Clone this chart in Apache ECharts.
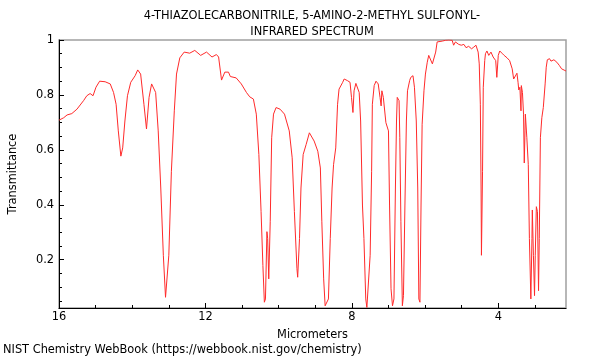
<!DOCTYPE html>
<html>
<head>
<meta charset="utf-8">
<script src="https://cdn.jsdelivr.net/npm/echarts@6/dist/echarts.min.js"></script>
<style>
html,body{margin:0;padding:0;background:#fff;}
#chart{width:600px;height:360px;}
</style>
</head>
<body>
<div id="chart"></div>
<script>
const titleLines = ['4-THIAZOLECARBONITRILE, 5-AMINO-2-METHYL SULFONYL-', 'INFRARED SPECTRUM'];
const xName = 'Micrometers';
const yName = 'Transmittance';
const footer = 'NIST Chemistry WebBook (https://webbook.nist.gov/chemistry)';

const xMajorTicks = [16, 12, 8, 4];
const xMinorTicks = [15, 14, 13, 11, 10, 9, 7, 6, 5, 3];
const yMajorTicks = [0.2, 0.4, 0.6, 0.8, 1];
const yMinorTicks = [0.05, 0.1, 0.15, 0.25, 0.3, 0.35, 0.45, 0.5, 0.55, 0.65, 0.7, 0.75, 0.85, 0.9, 0.95];

const wavelength = [
16.00,15.87,15.78,15.65,15.51,15.33,15.24,15.15,15.07,14.99,14.89,14.74,14.60,14.51,14.44,14.38,14.31,14.26,14.20,14.13,
14.04,13.92,13.85,13.77,13.68,13.61,13.54,13.47,13.42,13.36,13.29,13.22,13.15,13.09,13.05,13.00,12.93,12.85,12.79,12.70,
12.58,12.43,12.29,12.13,11.97,11.82,11.70,11.64,11.56,11.47,11.37,11.32,11.16,11.02,10.88,10.79,10.69,10.61,10.54,10.48,
10.43,10.39,10.36,10.32,10.30,10.27,10.23,10.19,10.14,10.07,9.96,9.84,9.71,9.63,9.57,9.50,9.48,9.43,9.39,9.33,
9.25,9.16,9.12,9.03,8.93,8.86,8.82,8.77,8.73,8.68,8.64,8.59,8.54,8.50,8.44,8.39,8.35,8.25,8.21,8.12,
8.05,8.01,7.97,7.94,7.89,7.84,7.80,7.76,7.71,7.67,7.62,7.59,7.55,7.50,7.46,7.44,7.39,7.34,7.28,7.23,
7.20,7.18,7.14,7.07,7.03,7.00,6.97,6.93,6.89,6.85,6.81,6.78,6.76,6.71,6.69,6.66,6.62,6.59,6.55,6.51,
6.48,6.42,6.39,6.35,6.33,6.29,6.24,6.20,6.17,6.14,6.11,6.08,6.03,5.99,5.94,5.90,5.85,5.80,5.76,5.71,
5.67,5.53,5.44,5.35,5.26,5.22,5.17,5.12,5.08,5.01,4.94,4.88,4.81,4.73,4.67,4.61,4.55,4.52,4.49,4.47,
4.46,4.43,4.41,4.37,4.35,4.31,4.26,4.20,4.14,4.10,4.07,4.04,4.00,3.96,3.90,3.84,3.76,3.69,3.66,3.62,
3.58,3.56,3.53,3.49,3.46,3.44,3.41,3.38,3.37,3.34,3.31,3.29,3.27,3.26,3.22,3.18,3.15,3.11,3.08,3.07,
3.04,3.01,2.99,2.96,2.93,2.90,2.88,2.85,2.81,2.77,2.72,2.69,2.66,2.60,2.56,2.48,2.40,2.33,2.27,2.18,2.15
];
const transmittance = [
0.708,0.717,0.727,0.732,0.748,0.779,0.797,0.805,0.797,0.828,0.850,0.848,0.840,0.809,0.766,0.669,0.577,0.607,0.705,0.797,
0.846,0.870,0.891,0.876,0.766,0.676,0.791,0.840,0.842,0.809,0.669,0.461,0.216,0.063,0.069,0.216,0.522,0.742,0.876,0.935,
0.956,0.952,0.962,0.944,0.956,0.938,0.947,0.938,0.854,0.883,0.883,0.867,0.862,0.840,0.809,0.793,0.785,0.730,0.583,0.375,
0.179,0.045,0.057,0.302,0.277,0.130,0.338,0.644,0.730,0.754,0.748,0.730,0.669,0.571,0.375,0.167,0.136,0.277,0.461,0.583,
0.619,0.662,0.662,0.632,0.595,0.534,0.338,0.130,0.032,0.026,0.057,0.277,0.461,0.546,0.607,0.766,0.821,0.846,0.858,0.852,
0.846,0.791,0.736,0.815,0.842,0.840,0.809,0.705,0.399,0.277,0.057,0.026,0.032,0.216,0.522,0.766,0.834,0.850,0.840,0.791,
0.760,0.815,0.791,0.699,0.693,0.669,0.399,0.094,0.032,0.057,0.461,0.705,0.791,0.779,0.644,0.338,0.032,0.069,0.399,0.705,
0.815,0.853,0.864,0.858,0.870,0.828,0.705,0.461,0.057,0.045,0.399,0.693,0.815,0.876,0.919,0.944,0.938,0.913,0.919,0.956,
0.993,0.996,0.999,1.000,0.999,0.981,0.993,0.996,0.984,0.981,0.984,0.972,0.977,0.968,0.974,0.981,0.956,0.913,0.766,0.461,
0.216,0.522,0.828,0.925,0.950,0.960,0.944,0.956,0.938,0.941,0.925,0.864,0.944,0.960,0.952,0.944,0.935,0.925,0.928,0.895,
0.858,0.864,0.852,0.879,0.846,0.818,0.828,0.742,0.834,0.809,0.730,0.552,0.669,0.730,0.644,0.546,0.277,0.057,0.277,0.381,
0.216,0.069,0.216,0.393,0.375,0.087,0.277,0.644,0.717,0.754,0.840,0.901,0.928,0.932,0.923,0.928,0.919,0.907,0.895,0.889,0.887
];

const seriesData = wavelength.map((w, i) => [w, transmittance[i]]);
const FONT = 'DejaVu Sans';
const FS = 11.4;
const X_MIN = 2.15, X_MAX = 16, Y_MIN = 0.024, Y_MAX = 1;

const chart = echarts.init(document.getElementById('chart'), null, {renderer: 'canvas'});
chart.setOption({
  animation: false,
  backgroundColor: '#fff',
  textStyle: {fontFamily: FONT},
  title: {
    text: titleLines.join('\n'),
    left: 307, top: 3,
    textAlign: 'center',
    textStyle: {fontFamily: FONT, fontSize: FS, fontWeight: 'normal', color: '#000', lineHeight: 16}
  },
  graphic: [{
    type: 'text', left: 3, top: 345,
    style: {text: footer, fontFamily: FONT, fontSize: FS, fill: '#000'}
  }],
  grid: {left: 57, right: 34, top: 40, bottom: 52, show: true, borderColor: '#a0a0a0', borderWidth: 1.5, containLabel: false},
  xAxis: [{
    type: 'value', inverse: true, min: X_MIN, max: X_MAX,
    name: xName, nameLocation: 'middle', nameGap: 22,
    nameTextStyle: {fontFamily: FONT, fontSize: FS, color: '#000'},
    axisLine: {show: true, lineStyle: {color: '#000', width: 1}},
    axisTick: {show: true, inside: true, length: 5, customValues: xMajorTicks, lineStyle: {color: '#000'}},
    axisLabel: {customValues: xMajorTicks, fontFamily: FONT, fontSize: FS, color: '#000', margin: 4},
    splitLine: {show: false}
  }, {
    type: 'value', inverse: true, min: X_MIN, max: X_MAX, position: 'bottom',
    axisLine: {show: false},
    axisTick: {show: true, inside: true, length: 3, customValues: xMinorTicks, lineStyle: {color: '#000'}},
    axisLabel: {show: false},
    splitLine: {show: false}
  }],
  yAxis: [{
    type: 'value', min: Y_MIN, max: Y_MAX,
    name: yName, nameLocation: 'middle', nameGap: 40, nameRotate: 90,
    nameTextStyle: {fontFamily: FONT, fontSize: FS, color: '#000'},
    axisLine: {show: true, lineStyle: {color: '#000', width: 1}},
    axisTick: {show: true, inside: true, length: 5, customValues: yMajorTicks, lineStyle: {color: '#000'}},
    axisLabel: {customValues: yMajorTicks, fontFamily: FONT, fontSize: FS, color: '#000', margin: 5,
      formatter: v => (Math.abs(v - 1) < 1e-9 ? '1' : v.toFixed(1))},
    splitLine: {show: false}
  }, {
    type: 'value', min: Y_MIN, max: Y_MAX, position: 'left',
    axisLine: {show: false},
    axisTick: {show: true, inside: true, length: 3, customValues: yMinorTicks, lineStyle: {color: '#000'}},
    axisLabel: {show: false},
    splitLine: {show: false}
  }],
  series: [{
    type: 'line', xAxisIndex: 0, yAxisIndex: 0,
    data: seriesData, showSymbol: false, symbol: 'none',
    lineStyle: {color: '#ff2a2a', width: 1},
    clip: true
  }]
});
</script>
</body>
</html>
